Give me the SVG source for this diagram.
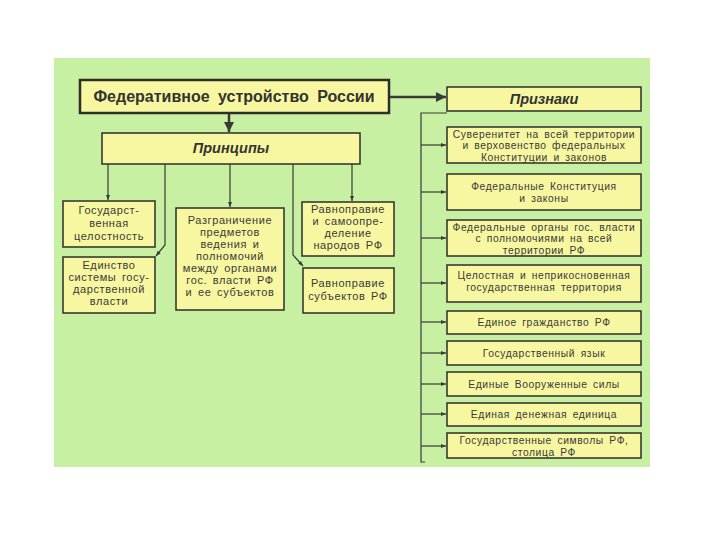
<svg xmlns="http://www.w3.org/2000/svg" width="720" height="540" viewBox="0 0 720 540">
<style>
.bx{fill:#f7f7a2;stroke:#2e2e2a;stroke-width:1.5}
.bm{fill:#f7f7a2;stroke:#2e2e2a;stroke-width:2.5}
.t{font-family:"Liberation Sans",Arial,sans-serif;font-size:10.3px;letter-spacing:0.6px;fill:#3a3a36;text-anchor:middle;word-spacing:2px}
.tl{font-family:"Liberation Sans",Arial,sans-serif;font-size:11px;letter-spacing:0.6px;fill:#3a3a36;text-anchor:middle;word-spacing:2px}
.tb{font-family:"Liberation Sans",Arial,sans-serif;font-size:16px;font-weight:bold;fill:#333330;text-anchor:middle;word-spacing:4px}
.ti{font-family:"Liberation Sans",Arial,sans-serif;font-size:14.5px;font-weight:bold;font-style:italic;fill:#333330;text-anchor:middle}
.ln{fill:none;stroke:#3a3a36;stroke-width:1.2}
.lt{fill:none;stroke:#3a3a36;stroke-width:2.5}
</style>
<defs>
<marker id="a" viewBox="0 0 10 10" refX="10" refY="5" markerWidth="7" markerHeight="5" orient="auto" markerUnits="userSpaceOnUse"><path d="M0,1 L10,5 L0,9 Z" fill="#3a3a36"/></marker>
<marker id="ab" viewBox="0 0 10 10" refX="10" refY="5" markerWidth="16" markerHeight="10" orient="auto" markerUnits="userSpaceOnUse"><path d="M0,0 L10,5 L0,10 Z" fill="#3a3a36"/></marker>
</defs>
<rect x="0" y="0" width="720" height="540" fill="#ffffff"/>
<rect x="54" y="58" width="596" height="409" fill="#c8f0a2"/>

<g id="connectors">
<line class="lt" x1="390" y1="97" x2="446" y2="97" marker-end="url(#ab)"/>
<line class="lt" x1="229" y1="114" x2="229" y2="132" marker-end="url(#ab)"/>
<line class="ln" x1="108" y1="164" x2="108" y2="200" marker-end="url(#a)"/>
<polyline class="ln" points="165,164 165,245 156,256" marker-end="url(#a)"/>
<line class="ln" x1="230" y1="164" x2="230" y2="207" marker-end="url(#a)"/>
<polyline class="ln" points="293,164 293,255 303,266" marker-end="url(#a)"/>
<line class="ln" x1="352" y1="164" x2="352" y2="201" marker-end="url(#a)"/>
<polyline class="ln" points="447,113 421,113 421,462 425,462"/>
<line class="ln" x1="421" y1="145" x2="446" y2="145" marker-end="url(#a)"/>
<line class="ln" x1="421" y1="192" x2="446" y2="192" marker-end="url(#a)"/>
<line class="ln" x1="421" y1="238" x2="446" y2="238" marker-end="url(#a)"/>
<line class="ln" x1="421" y1="283" x2="446" y2="283" marker-end="url(#a)"/>
<line class="ln" x1="421" y1="322" x2="446" y2="322" marker-end="url(#a)"/>
<line class="ln" x1="421" y1="353" x2="446" y2="353" marker-end="url(#a)"/>
<line class="ln" x1="421" y1="384" x2="446" y2="384" marker-end="url(#a)"/>
<line class="ln" x1="421" y1="414" x2="446" y2="414" marker-end="url(#a)"/>
<line class="ln" x1="421" y1="446" x2="446" y2="446" marker-end="url(#a)"/>
</g>

<g id="main"><rect class="bm" x="80" y="80" width="309" height="33"/><text class="tb" x="234" y="102">Федеративное устройство России</text></g>
<g id="printsipy"><rect class="bx" x="102" y="133" width="258" height="31"/><text class="ti" x="231" y="153">Принципы</text></g>
<g id="priznaki"><rect class="bx" x="447" y="87" width="194" height="24"/><text class="ti" x="544" y="104">Признаки</text></g>

<g id="p1"><rect class="bx" x="63" y="201" width="92" height="46"/>
<text class="tl" x="109" y="214">Государст-</text><text class="tl" x="109" y="227">венная</text><text class="tl" x="109" y="240">целостность</text></g>
<g id="p2"><rect class="bx" x="63" y="257" width="92" height="56"/>
<text class="tl" x="109" y="269">Единство</text><text class="tl" x="109" y="281">системы госу-</text><text class="tl" x="109" y="293">дарственной</text><text class="tl" x="109" y="305">власти</text></g>
<g id="p3"><rect class="bx" x="176" y="208" width="108" height="102"/>
<text class="tl" x="230" y="224">Разграничение</text><text class="tl" x="230" y="236">предметов</text><text class="tl" x="230" y="248">ведения и</text><text class="tl" x="230" y="260">полномочий</text><text class="tl" x="230" y="272">между органами</text><text class="tl" x="230" y="284">гос. власти РФ</text><text class="tl" x="230" y="296">и ее субъектов</text></g>
<g id="p4"><rect class="bx" x="302" y="202" width="92" height="54"/>
<text class="tl" x="348" y="213">Равноправие</text><text class="tl" x="348" y="225">и самоопре-</text><text class="tl" x="348" y="237">деление</text><text class="tl" x="348" y="249">народов РФ</text></g>
<g id="p5"><rect class="bx" x="303" y="268" width="91" height="45"/>
<text class="tl" x="348" y="287">Равноправие</text><text class="tl" x="348" y="300">субъектов РФ</text></g>

<g id="s1"><rect class="bx" x="447" y="127" width="194" height="36"/>
<text class="t" x="544" y="137.5">Суверенитет на всей территории</text><text class="t" x="544" y="149">и верховенство федеральных</text><text class="t" x="544" y="160.5">Конституции и законов</text></g>
<g id="s2"><rect class="bx" x="447" y="174" width="194" height="36"/>
<text class="t" x="544" y="190">Федеральные Конституция</text><text class="t" x="544" y="202">и законы</text></g>
<g id="s3"><rect class="bx" x="447" y="220" width="194" height="36"/>
<text class="t" x="544" y="230.5">Федеральные органы гос. власти</text><text class="t" x="544" y="242">с полномочиями на всей</text><text class="t" x="544" y="253.5">территории РФ</text></g>
<g id="s4"><rect class="bx" x="447" y="265" width="194" height="37"/>
<text class="t" x="544" y="279">Целостная и неприкосновенная</text><text class="t" x="544" y="291">государственная территория</text></g>
<g id="s5"><rect class="bx" x="447" y="311" width="194" height="23"/>
<text class="t" x="544" y="326">Единое гражданство РФ</text></g>
<g id="s6"><rect class="bx" x="447" y="341" width="194" height="24"/>
<text class="t" x="544" y="357">Государственный язык</text></g>
<g id="s7"><rect class="bx" x="447" y="372" width="194" height="24"/>
<text class="t" x="544" y="388">Единые Вооруженные силы</text></g>
<g id="s8"><rect class="bx" x="447" y="403" width="194" height="23"/>
<text class="t" x="544" y="418">Единая денежная единица</text></g>
<g id="s9"><rect class="bx" x="447" y="433" width="194" height="25"/>
<text class="t" x="544" y="444">Государственные символы РФ,</text><text class="t" x="544" y="455.5">столица РФ</text></g>
</svg>
